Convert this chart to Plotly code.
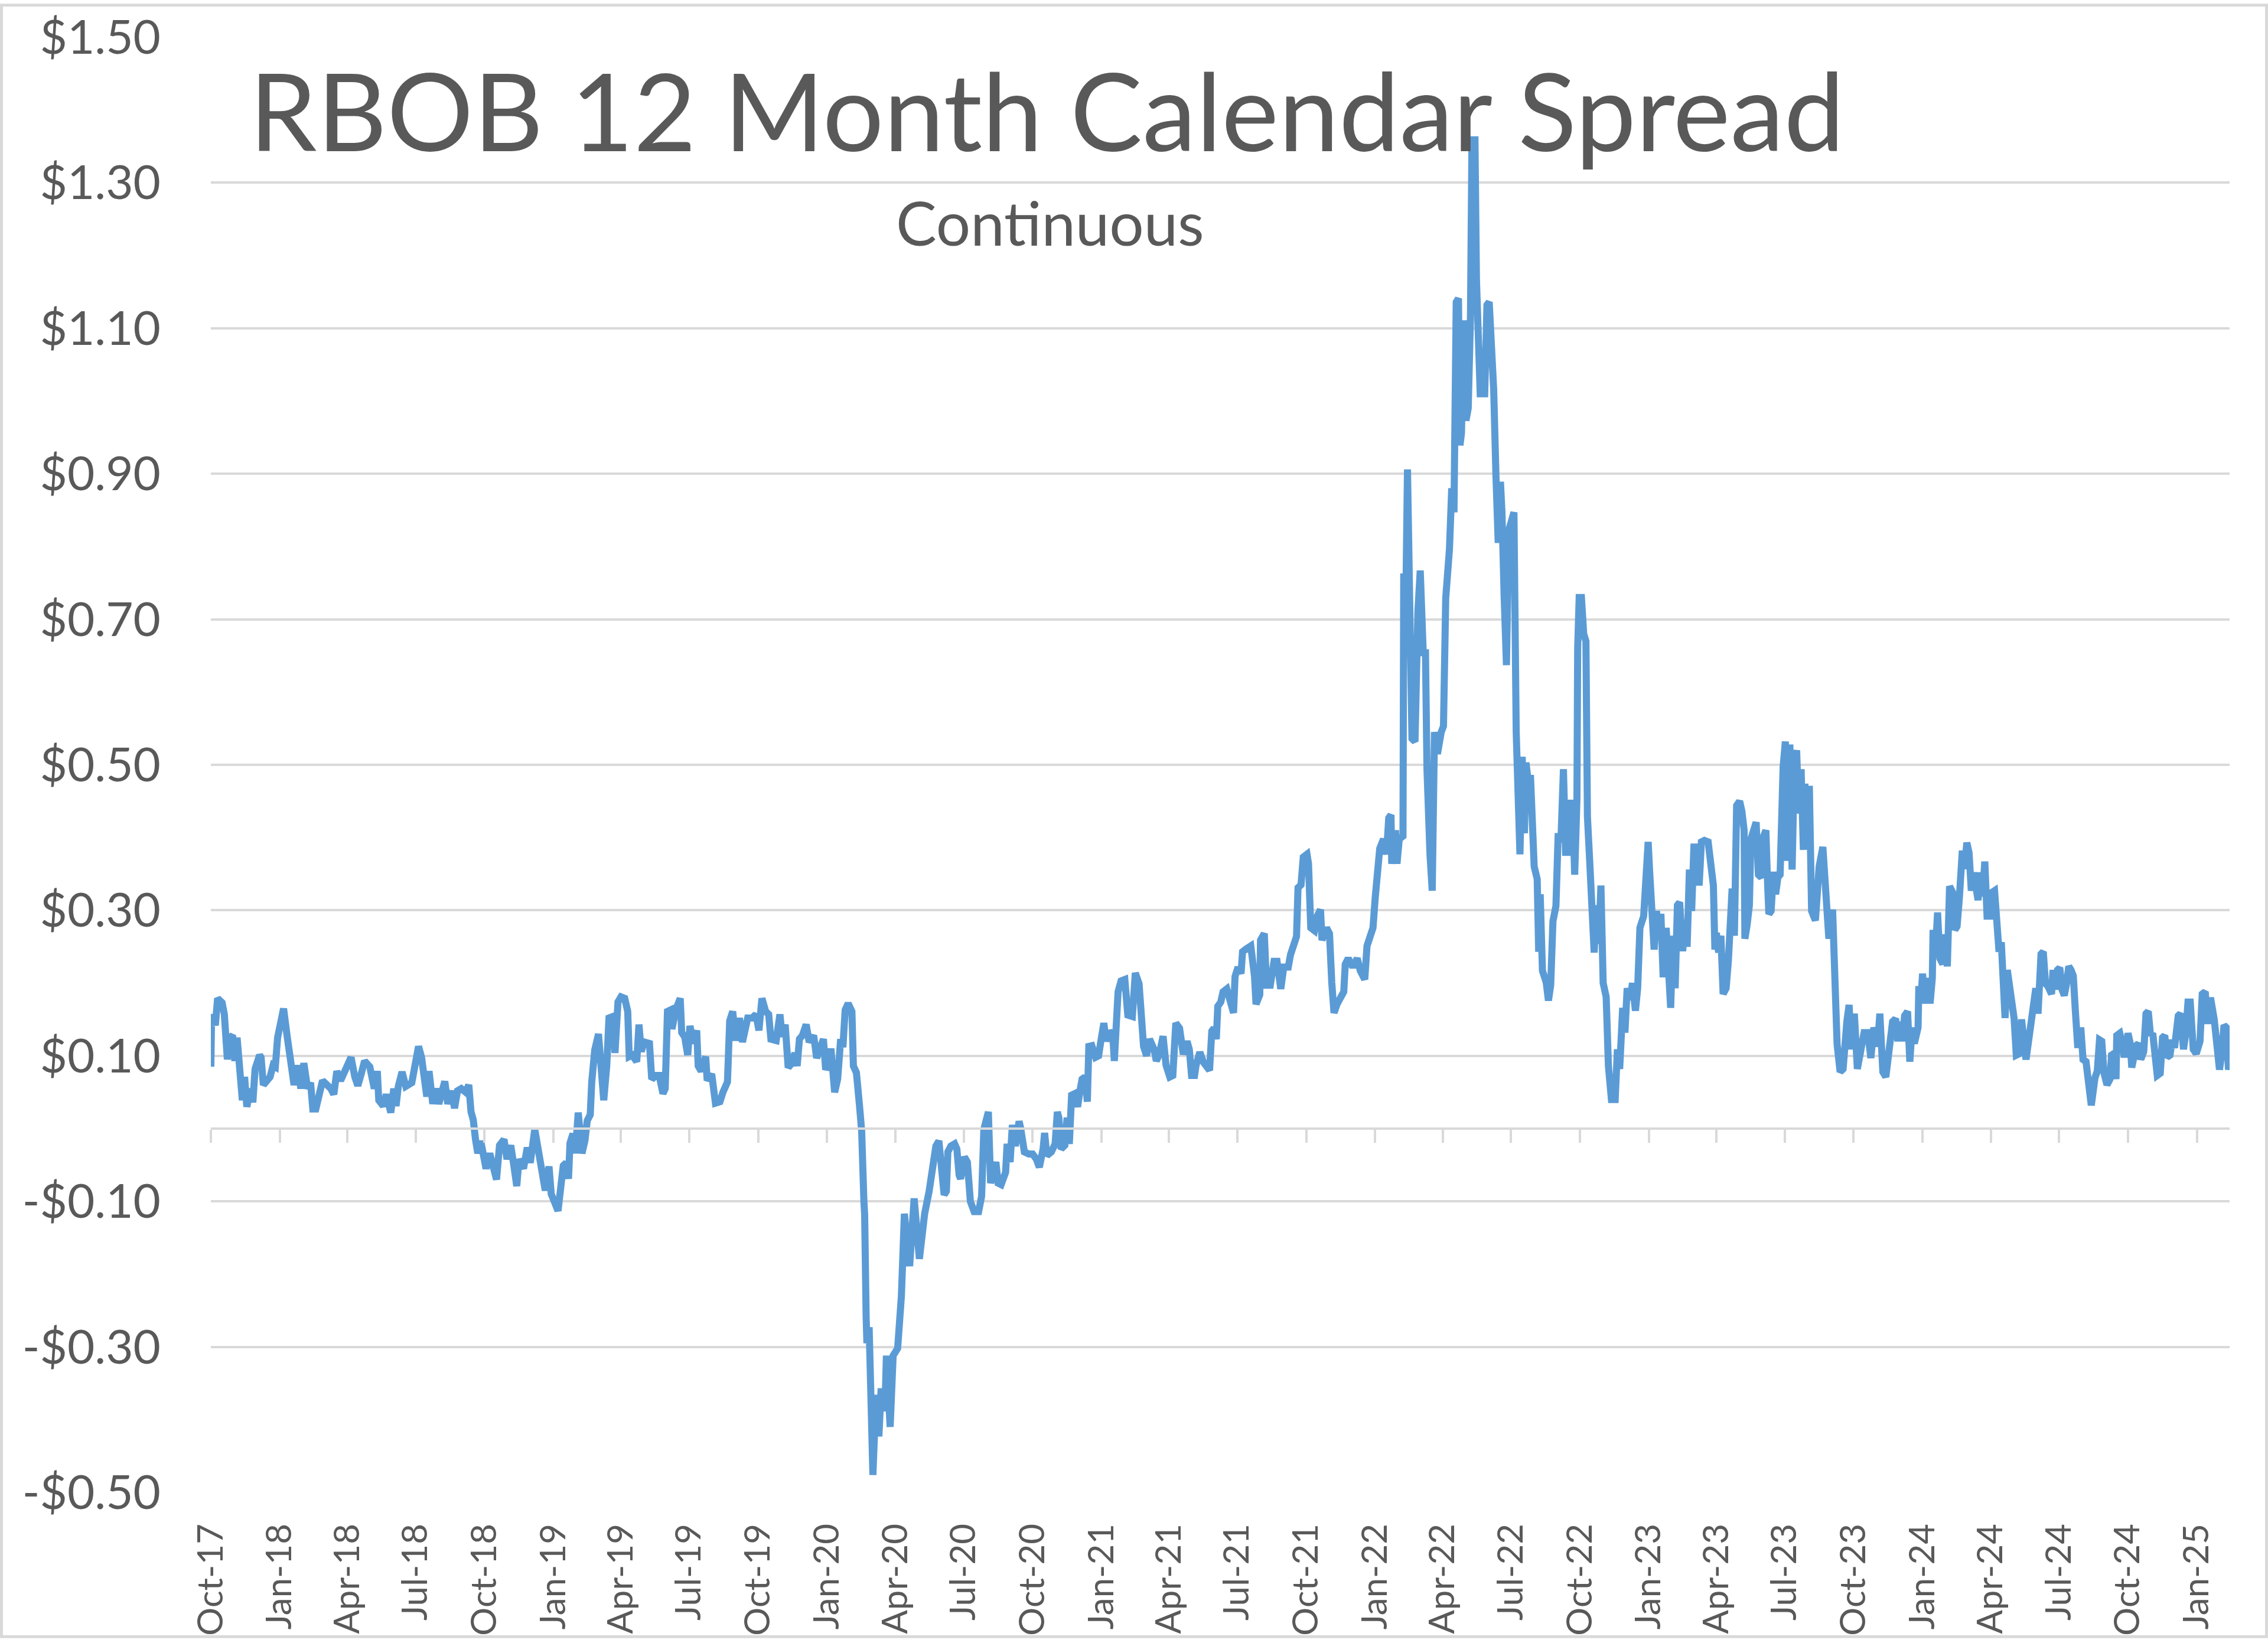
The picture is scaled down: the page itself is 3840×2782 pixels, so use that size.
import pandas as pd
import plotly.graph_objects as go

START_DATE = "2017-10-01"

# days since START_DATE
day_offset = [
    0, 1, 6, 9, 15, 18, 22, 25, 29, 32, 35, 40, 42, 45, 48,
    53, 56, 59, 61, 65, 67, 70, 75, 79, 83, 86, 89, 92, 97, 102,
    107, 111, 116, 120, 124, 129, 133, 136, 140, 143, 149, 155, 160, 164, 168,
    173, 180, 187, 192, 196, 201, 205, 212, 218, 222, 224, 230, 234, 240, 244,
    247, 250, 255, 260, 268, 272, 277, 281, 285, 288, 291, 296, 300, 304, 312,
    316, 321, 325, 329, 334, 340, 344, 347, 350, 353, 356, 360, 364, 367, 372,
    376, 381, 385, 391, 395, 400, 404, 408, 411, 417, 422, 426, 432, 436, 441,
    446, 451, 454, 458, 463, 467, 470, 474, 477, 479, 483, 486, 490, 495, 499,
    502, 506, 508, 512, 517, 520, 524, 528, 531, 536, 539, 543, 547, 552, 556,
    558, 562, 568, 571, 574, 578, 585, 588, 594, 598, 603, 606, 609, 613, 615,
    620, 626, 628, 632, 636, 639, 644, 648, 650, 654, 660, 662, 668, 673, 679,
    683, 689, 692, 696, 700, 705, 709, 712, 716, 722, 727, 731, 735, 740, 744,
    747, 754, 759, 762, 766, 770, 775, 779, 782, 785, 789, 794, 798, 804, 808,
    813, 817, 820, 824, 827, 832, 836, 838, 840, 843, 846, 850, 855, 857, 861,
    865, 868, 871, 872, 874, 875, 878, 881, 883, 885, 888, 891, 894, 899, 901,
    906, 910, 916, 921, 925, 932, 938, 945, 952, 958, 967, 971, 978, 981, 983,
    987, 992, 995, 998, 1000, 1005, 1009, 1013, 1018, 1024, 1028, 1031, 1037, 1040, 1044,
    1047, 1050, 1054, 1060, 1062, 1066, 1069, 1073, 1078, 1080, 1085, 1091, 1096, 1101, 1105,
    1110, 1112, 1115, 1121, 1126, 1129, 1131, 1134, 1139, 1142, 1145, 1148, 1152, 1156, 1159,
    1162, 1166, 1169, 1171, 1175, 1180, 1184, 1187, 1191, 1194, 1198, 1203, 1205, 1210, 1214,
    1219, 1223, 1229, 1233, 1238, 1244, 1248, 1252, 1258, 1261, 1265, 1270, 1274, 1279, 1283,
    1285, 1287, 1292, 1295, 1297, 1302, 1305, 1308, 1312, 1314, 1319, 1324, 1330, 1332, 1335,
    1338, 1341, 1343, 1347, 1350, 1355, 1360, 1364, 1366, 1370, 1374, 1376, 1381, 1387, 1392,
    1394, 1399, 1400, 1405, 1408, 1413, 1418, 1422, 1427, 1431, 1437, 1440, 1444, 1448, 1450,
    1454, 1457, 1462, 1464, 1467, 1472, 1476, 1480, 1482, 1488, 1492, 1495, 1498, 1502, 1507,
    1511, 1513, 1517, 1523, 1529, 1533, 1539, 1542, 1546, 1550, 1553, 1556, 1559, 1564, 1568,
    1571, 1574, 1575, 1580, 1582, 1585, 1590, 1591, 1593, 1596, 1599, 1600, 1602, 1606, 1608,
    1610, 1613, 1617, 1620, 1622, 1626, 1629, 1632, 1636, 1641, 1644, 1647, 1650, 1652, 1655,
    1658, 1661, 1664, 1666, 1668, 1671, 1674, 1677, 1680, 1682, 1686, 1688, 1690, 1693, 1699,
    1702, 1705, 1708, 1711, 1714, 1717, 1720, 1722, 1725, 1728, 1731, 1734, 1738, 1741, 1743,
    1746, 1749, 1752, 1754, 1757, 1760, 1765, 1769, 1771, 1773, 1776, 1781, 1784, 1787, 1790,
    1794, 1797, 1799, 1801, 1804, 1807, 1810, 1813, 1816, 1819, 1822, 1823, 1825, 1828, 1831,
    1834, 1836, 1839, 1842, 1845, 1848, 1851, 1854, 1857, 1861, 1864, 1868, 1873, 1876, 1879,
    1883, 1886, 1889, 1893, 1896, 1900, 1903, 1906, 1911, 1914, 1917, 1919, 1922, 1925, 1928,
    1931, 1934, 1937, 1941, 1944, 1947, 1950, 1953, 1956, 1959, 1963, 1966, 1969, 1972, 1975,
    1978, 1982, 1985, 1988, 1992, 1997, 2000, 2004, 2006, 2008, 2011, 2014, 2017, 2021, 2024,
    2029, 2032, 2035, 2039, 2042, 2045, 2046, 2049, 2052, 2054, 2058, 2061, 2064, 2068, 2071,
    2074, 2076, 2078, 2081, 2084, 2087, 2090, 2093, 2095, 2097, 2100, 2103, 2106, 2109, 2112,
    2115, 2118, 2121, 2124, 2126, 2129, 2132, 2135, 2140, 2142, 2145, 2150, 2154, 2158, 2163,
    2166, 2169, 2173, 2177, 2182, 2185, 2188, 2192, 2196, 2201, 2205, 2210, 2214, 2218, 2223,
    2226, 2230, 2234, 2239, 2243, 2247, 2250, 2253, 2256, 2259, 2263, 2266, 2269, 2272, 2277,
    2278, 2281, 2283, 2286, 2290, 2293, 2296, 2297, 2300, 2303, 2306, 2310, 2313, 2316, 2319,
    2323, 2326, 2329, 2332, 2334, 2336, 2339, 2342, 2345, 2348, 2351, 2354, 2357, 2360, 2363,
    2366, 2369, 2373, 2376, 2379, 2382, 2385, 2388, 2390, 2393, 2396, 2399, 2402, 2405, 2408,
    2412, 2415, 2418, 2421, 2425, 2428, 2431, 2434, 2437, 2439, 2441, 2444, 2447, 2450, 2455,
    2457, 2460, 2463, 2466, 2469, 2472, 2475, 2478, 2481, 2484, 2487, 2490, 2494, 2497, 2501,
    2504, 2508, 2513, 2516, 2519, 2522, 2525, 2529, 2533, 2535, 2538, 2541, 2542, 2546, 2549,
    2552, 2557, 2560, 2562, 2565, 2568, 2571, 2574, 2578, 2581, 2584, 2587, 2590, 2593, 2596,
    2600, 2603, 2606, 2609, 2613, 2616, 2619, 2624, 2627, 2631, 2634, 2637, 2640, 2644, 2648,
    2653, 2656, 2660, 2663, 2667, 2672, 2676, 2679, 2682, 2685, 2688, 2691, 2693,
]

# RBOB 12 month calendar spread, $/gal
spread = [
    0.085, 0.157, 0.142, 0.179, 0.173, 0.157, 0.095, 0.125, 0.128, 0.093, 0.125, 0.071, 0.039, 0.071, 0.030,
    0.055, 0.036, 0.082, 0.087, 0.101, 0.098, 0.060, 0.066, 0.071, 0.087, 0.085, 0.125, 0.138, 0.165, 0.125,
    0.090, 0.060, 0.087, 0.055, 0.090, 0.055, 0.063, 0.027, 0.027, 0.044, 0.066, 0.060, 0.055, 0.047, 0.079,
    0.066, 0.085, 0.098, 0.071, 0.059, 0.077, 0.093, 0.085, 0.055, 0.079, 0.039, 0.031, 0.047, 0.022, 0.055,
    0.031, 0.058, 0.078, 0.058, 0.063, 0.082, 0.113, 0.098, 0.055, 0.044, 0.079, 0.034, 0.055, 0.034, 0.065,
    0.034, 0.052, 0.028, 0.052, 0.055, 0.050, 0.060, 0.023, 0.012, -0.015, -0.034, -0.017, -0.036, -0.055, -0.034,
    -0.052, -0.070, -0.023, -0.015, -0.042, -0.023, -0.050, -0.079, -0.042, -0.055, -0.026, -0.047, -0.001, -0.028, -0.066,
    -0.085, -0.052, -0.090, -0.100, -0.113, -0.078, -0.051, -0.047, -0.069, -0.020, -0.007, -0.034, 0.022, -0.034, -0.016,
    0.011, 0.019, 0.064, 0.108, 0.130, 0.077, 0.039, 0.086, 0.152, 0.154, 0.104, 0.174, 0.181, 0.179, 0.161,
    0.099, 0.101, 0.092, 0.143, 0.106, 0.119, 0.117, 0.068, 0.073, 0.073, 0.048, 0.055, 0.161, 0.163, 0.137,
    0.163, 0.179, 0.132, 0.126, 0.101, 0.141, 0.117, 0.135, 0.086, 0.079, 0.099, 0.066, 0.075, 0.035, 0.037,
    0.050, 0.064, 0.148, 0.161, 0.121, 0.152, 0.119, 0.130, 0.152, 0.152, 0.157, 0.135, 0.179, 0.161, 0.157,
    0.123, 0.121, 0.157, 0.126, 0.143, 0.084, 0.090, 0.104, 0.086, 0.123, 0.128, 0.143, 0.119, 0.128, 0.097,
    0.112, 0.123, 0.081, 0.090, 0.110, 0.050, 0.068, 0.099, 0.123, 0.112, 0.163, 0.172, 0.161, 0.086, 0.077,
    0.033, -0.003, -0.100, -0.118, -0.259, -0.295, -0.273, -0.383, -0.476, -0.423, -0.366, -0.423, -0.357, -0.388, -0.312,
    -0.410, -0.312, -0.302, -0.230, -0.117, -0.189, -0.096, -0.179, -0.117, -0.086, -0.024, -0.017, -0.091, -0.086, -0.032,
    -0.024, -0.021, -0.028, -0.064, -0.069, -0.039, -0.046, -0.100, -0.114, -0.114, -0.093, -0.001, 0.023, -0.075, -0.053,
    -0.046, -0.075, -0.077, -0.060, -0.021, -0.046, 0.005, -0.024, 0.010, 0.001, -0.032, -0.035, -0.035, -0.042, -0.053,
    -0.028, -0.006, -0.037, -0.032, -0.021, 0.023, 0.015, -0.028, -0.023, 0.015, -0.021, 0.046, 0.048, 0.030, 0.051,
    0.068, 0.071, 0.037, 0.113, 0.114, 0.098, 0.100, 0.120, 0.145, 0.120, 0.134, 0.127, 0.093, 0.188, 0.203,
    0.205, 0.156, 0.154, 0.214, 0.199, 0.113, 0.100, 0.123, 0.109, 0.093, 0.102, 0.127, 0.087, 0.071, 0.073,
    0.127, 0.145, 0.138, 0.105, 0.102, 0.120, 0.109, 0.073, 0.073, 0.087, 0.105, 0.091, 0.080, 0.080, 0.134,
    0.138, 0.123, 0.168, 0.174, 0.188, 0.192, 0.167, 0.159, 0.209, 0.222, 0.213, 0.243, 0.247, 0.251, 0.209,
    0.171, 0.184, 0.259, 0.268, 0.197, 0.197, 0.230, 0.230, 0.192, 0.222, 0.222, 0.239, 0.251, 0.264, 0.331,
    0.335, 0.373, 0.377, 0.364, 0.276, 0.272, 0.293, 0.301, 0.259, 0.276, 0.268, 0.201, 0.159, 0.171, 0.184,
    0.188, 0.226, 0.234, 0.222, 0.234, 0.217, 0.205, 0.251, 0.264, 0.276, 0.318, 0.348, 0.385, 0.398, 0.377,
    0.427, 0.431, 0.364, 0.410, 0.364, 0.398, 0.402, 0.763, 0.662, 0.906, 0.645, 0.629, 0.536, 0.532, 0.687,
    0.713, 0.767, 0.654, 0.654, 0.494, 0.377, 0.327, 0.545, 0.515, 0.545, 0.553, 0.729, 0.763, 0.797, 0.880,
    0.847, 1.136, 1.141, 0.939, 0.956, 1.111, 0.973, 0.990, 1.115, 1.359, 1.359, 1.166, 1.082, 1.010, 1.010,
    1.132, 1.136, 1.090, 1.015, 0.897, 0.805, 0.889, 0.847, 0.729, 0.637, 0.822, 0.838, 0.847, 0.545, 0.482,
    0.377, 0.511, 0.406, 0.503, 0.478, 0.486, 0.360, 0.343, 0.243, 0.322, 0.217, 0.201, 0.176, 0.197, 0.285,
    0.306, 0.406, 0.394, 0.406, 0.494, 0.375, 0.452, 0.375, 0.452, 0.349, 0.452, 0.660, 0.730, 0.730, 0.680,
    0.670, 0.429, 0.368, 0.314, 0.242, 0.307, 0.254, 0.334, 0.200, 0.181, 0.086, 0.040, 0.040, 0.109, 0.082,
    0.166, 0.132, 0.193, 0.177, 0.200, 0.162, 0.193, 0.276, 0.292, 0.353, 0.394, 0.353, 0.280, 0.246, 0.299,
    0.276, 0.295, 0.208, 0.276, 0.189, 0.166, 0.265, 0.193, 0.307, 0.311, 0.244, 0.276, 0.250, 0.356, 0.299,
    0.387, 0.387, 0.334, 0.394, 0.396, 0.394, 0.360, 0.334, 0.246, 0.269, 0.242, 0.265, 0.185, 0.193, 0.231,
    0.330, 0.265, 0.444, 0.450, 0.436, 0.410, 0.261, 0.280, 0.307, 0.398, 0.414, 0.421, 0.349, 0.345, 0.402,
    0.410, 0.345, 0.295, 0.299, 0.353, 0.322, 0.345, 0.349, 0.436, 0.497, 0.532, 0.368, 0.528, 0.356, 0.505,
    0.520, 0.433, 0.494, 0.383, 0.474, 0.387, 0.471, 0.299, 0.286, 0.314, 0.360, 0.387, 0.322, 0.261, 0.301,
    0.219, 0.116, 0.078, 0.082, 0.147, 0.170, 0.109, 0.158, 0.082, 0.116, 0.132, 0.132, 0.097, 0.139, 0.113,
    0.158, 0.078, 0.071, 0.128, 0.147, 0.151, 0.120, 0.147, 0.120, 0.155, 0.161, 0.092, 0.139, 0.117, 0.139,
    0.196, 0.180, 0.213, 0.172, 0.207, 0.172, 0.207, 0.273, 0.240, 0.297, 0.234, 0.226, 0.267, 0.223, 0.333,
    0.325, 0.273, 0.278, 0.316, 0.377, 0.382, 0.357, 0.393, 0.379, 0.327, 0.352, 0.322, 0.314, 0.352, 0.319,
    0.367, 0.292, 0.292, 0.325, 0.327, 0.264, 0.243, 0.256, 0.223, 0.152, 0.218, 0.191, 0.166, 0.152, 0.101,
    0.103, 0.150, 0.128, 0.095, 0.125, 0.152, 0.177, 0.193, 0.158, 0.234, 0.240, 0.243, 0.199, 0.196, 0.185,
    0.218, 0.191, 0.218, 0.221, 0.191, 0.183, 0.199, 0.223, 0.218, 0.210, 0.158, 0.111, 0.139, 0.095, 0.092,
    0.054, 0.032, 0.070, 0.079, 0.122, 0.120, 0.076, 0.060, 0.068, 0.101, 0.103, 0.068, 0.128, 0.131, 0.117,
    0.098, 0.131, 0.117, 0.084, 0.106, 0.114, 0.117, 0.095, 0.106, 0.158, 0.161, 0.128, 0.131, 0.101, 0.073,
    0.076, 0.125, 0.128, 0.098, 0.101, 0.122, 0.111, 0.155, 0.158, 0.109, 0.131, 0.174, 0.174, 0.109, 0.103,
    0.120, 0.185, 0.188, 0.144, 0.180, 0.150, 0.095, 0.081, 0.103, 0.142, 0.139, 0.081, 0.092,
]

tick_dates = [
    "2017-10-01", "2018-01-01", "2018-04-01", "2018-07-01", "2018-10-01",
    "2019-01-01", "2019-04-01", "2019-07-01", "2019-10-01", "2020-01-01",
    "2020-04-01", "2020-07-01", "2020-10-01", "2021-01-01", "2021-04-01",
    "2021-07-01", "2021-10-01", "2022-01-01", "2022-04-01", "2022-07-01",
    "2022-10-01", "2023-01-01", "2023-04-01", "2023-07-01", "2023-10-01",
    "2024-01-01", "2024-04-01", "2024-07-01", "2024-10-01", "2025-01-01",
]
x_range = ["2017-10-01", "2025-02-13 12:00"]

y_ticks = [-0.5, -0.3, -0.1, 0.1, 0.3, 0.5, 0.7, 0.9, 1.1, 1.3, 1.5]
y_tick_text = ["-$0.50", "-$0.30", "-$0.10", "$0.10", "$0.30", "$0.50",
               "$0.70", "$0.90", "$1.10", "$1.30", "$1.50"]

TITLE = "RBOB 12 Month Calendar Spread"
SUBTITLE = "Continuous"

assert len(day_offset) == len(spread)

dates = pd.Timestamp(START_DATE) + pd.to_timedelta(day_offset, unit="D")

W, H = 3840, 2782
ML, MR, MT, MB = 357, 65, 57, 248
PW, PH = W - ML - MR, H - MT - MB
TEXT = "#595959"
GRID = "#d9d9d9"
FONT = "Lato"

fig = go.Figure()
fig.add_trace(go.Scatter(
    x=dates, y=spread, mode="lines",
    line=dict(color="#5b9bd5", width=12),
    showlegend=False, hoverinfo="skip",
))
# helper trace so the zero-line axis (x2) with tick marks is rendered
fig.add_trace(go.Scatter(
    x=x_range, y=[0, 0], xaxis="x2", mode="lines",
    line=dict(color="rgba(0,0,0,0)", width=0),
    showlegend=False, hoverinfo="skip",
))

fig.update_layout(
    width=W, height=H,
    margin=dict(l=ML, r=MR, t=MT, b=MB, pad=0),
    paper_bgcolor="white", plot_bgcolor="white",
    font=dict(family=FONT, color=TEXT),
    xaxis=dict(
        type="date", range=x_range,
        tickvals=tick_dates, tickformat="%b-%y", tickangle=-90,
        tickfont=dict(family=FONT, size=60, color=TEXT),
        ticks="", showgrid=False, showline=False, zeroline=False,
        ticklabelstandoff=40,
    ),
    xaxis2=dict(
        type="date", range=x_range, overlaying="x", anchor="free",
        position=0.25, side="bottom",
        tickvals=tick_dates, showticklabels=False,
        ticks="outside", ticklen=22, tickwidth=4, tickcolor=GRID,
        showline=True, linecolor=GRID, linewidth=4,
        showgrid=False, zeroline=False,
    ),
    yaxis=dict(
        range=[-0.5, 1.5], tickvals=y_ticks, ticktext=y_tick_text,
        tickfont=dict(family=FONT, size=80, color=TEXT),
        showgrid=True, gridcolor=GRID, gridwidth=4,
        zeroline=False, showline=False, ticks="",
        ticklabelstandoff=84,
    ),
    annotations=[
        dict(text=TITLE, xref="paper", yref="paper",
             x=(1772 - ML) / PW, y=0.996, xanchor="center", yanchor="top",
             showarrow=False, font=dict(family=FONT, size=183, color=TEXT)),
        dict(text=SUBTITLE, xref="paper", yref="paper",
             x=(1778 - ML) / PW, y=0.899, xanchor="center", yanchor="top",
             showarrow=False, font=dict(family=FONT, size=103, color=TEXT)),
    ],
    shapes=[
        dict(type="rect", xref="paper", yref="paper",
             x0=(2.5 - ML) / PW, x1=(W - 2.5 - ML) / PW,
             y0=-(MB - 2.5) / PH, y1=1 + (MT - 2.5) / PH,
             line=dict(color=GRID, width=5), fillcolor="rgba(0,0,0,0)",
             layer="above"),
    ],
)

fig.write_html("out.html", config={"displayModeBar": False},
               post_script="document.body.style.margin='0';")
